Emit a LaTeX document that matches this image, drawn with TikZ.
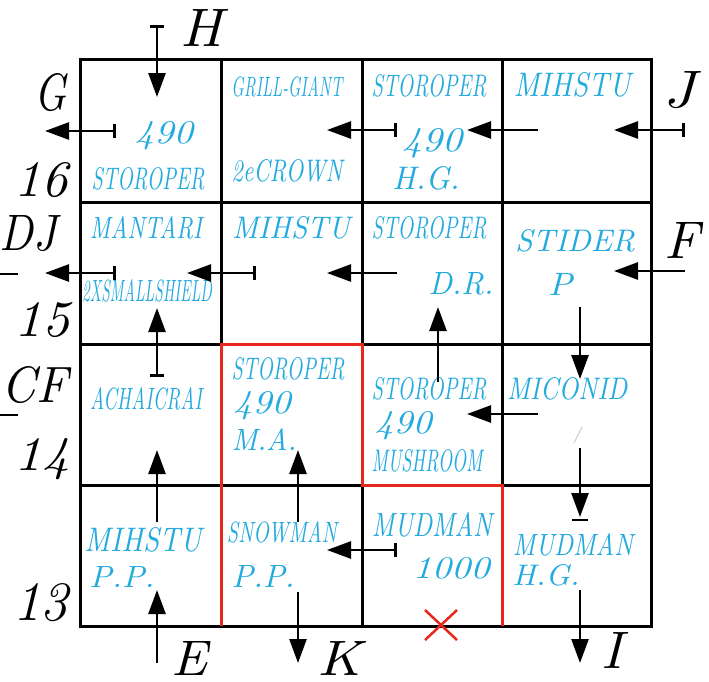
\documentclass[tikz,border=0pt]{standalone}
\usepackage{graphicx}
\usetikzlibrary{arrows.meta}
\definecolor{bluetext}{RGB}{35,170,222}
\definecolor{redline}{RGB}{232,40,28}
\newcommand{\fitt}[3]{\resizebox{#1pt}{#2pt}{\itshape #3}}
\begin{document}
\begin{tikzpicture}[x=1pt,y=-1pt,
  lab/.style={inner sep=0pt, text=black},
  bt/.style={inner sep=0pt, text=bluetext},
  gridline/.style={line width=3pt, black},
  redwall/.style={line width=3pt, redline, line join=miter},
  arr/.style={line width=2.6pt, -{Triangle[length=24pt,width=17pt]}},
  barr/.style={line width=2.6pt, {Bar[width=14pt]}-{Triangle[length=24pt,width=17pt]}},
  plain/.style={line width=2.6pt}
  ]
\useasboundingbox (0,0) rectangle (709,681);
\fill[white] (0,0) rectangle (709,681);
% grid
\draw[gridline] (80,59) rectangle (651,626);
\foreach \x in {221,362,502} \draw[gridline] (\x,59)--(\x,626);
\foreach \y in {202,344,485} \draw[gridline] (80,\y)--(651,\y);
% red walls
\draw[redwall] (221,626)--(221,344)--(362,344)--(362,485)--(502,485)--(502,626);
\draw[redline, line width=2.5pt] (425,610)--(457,640) (425,640)--(457,610);
% faint mark
\draw[gray!40, line width=1pt] (574,443)--(582,427);

% black labels
\node[lab] (H) at (201,28) {\fitt{42}{37}{H}};
\node[lab] (G) at (51,93) {\fitt{32}{37}{G}};
\node[lab] (n16) at (41,180) {\fitt{53}{34}{16}};
\node[lab] (DJ) at (28,234) {\fitt{57}{35}{DJ}};
\node[lab] (n15) at (42,320) {\fitt{55}{34}{15}};
\node[lab] (CF) at (35,385) {\fitt{66}{36}{CF}};
\node[lab] (n14) at (42,459) {\fitt{55}{32}{14}};
\node[lab] (n13) at (41,603) {\fitt{55}{37}{13}};
\node[lab] (E) at (190,658) {\fitt{36}{34}{E}};
\node[lab] (K) at (340,658) {\fitt{44}{34}{K}};
\node[lab] (I) at (612,650) {\fitt{21}{36}{I}};
\node[lab] (J) at (679,90) {\fitt{32}{36}{J}};
\node[lab] (F) at (682,240) {\fitt{35}{36}{F}};

% blue labels row 1
\node[bt] (t11a) at (164,136) {\fitt{58}{22}{490}};
\node[bt] (t11b) at (148,179) {\fitt{113}{22}{STOROPER}};
\node[bt] (t12a) at (287,87) {\fitt{111}{20}{GRILL-GIANT}};
\node[bt] (t12b) at (287,171) {\fitt{111}{22}{2eCROWN}};
\node[bt] (t13a) at (429,86) {\fitt{115}{22}{STOROPER}};
\node[bt] (t13b) at (432,143) {\fitt{60}{23}{490}};
\node[bt] (t13c) at (426,178) {\fitt{67}{23}{H.G.}};
\node[bt] (t14a) at (572,85) {\fitt{117}{24}{MIHSTU}};
% row 2
\node[bt] (t21a) at (146,228) {\fitt{112}{22}{MANTARI}};
\node[bt] (t21b) at (147,291) {\fitt{130}{22}{2XSMALLSHIELD}};
\node[bt] (t22a) at (291,228) {\fitt{118}{22}{MIHSTU}};
\node[bt] (t23a) at (429,228) {\fitt{115}{22}{STOROPER}};
\node[bt] (t23b) at (461,284) {\fitt{65}{22}{D.R.}};
\node[bt] (t24a) at (575,241) {\fitt{120}{22}{STIDER}};
\node[bt] (t24b) at (560,284) {\fitt{24}{22}{P}};
% row 3
\node[bt] (t31a) at (146,399) {\fitt{112}{22}{ACHAICRAI}};
\node[bt] (t32a) at (288,369) {\fitt{113}{22}{STOROPER}};
\node[bt] (t32b) at (262,406) {\fitt{57}{22}{490}};
\node[bt] (t32c) at (264,439) {\fitt{65}{22}{M.A.}};
\node[bt] (t33a) at (429,389) {\fitt{115}{22}{STOROPER}};
\node[bt] (t33b) at (403,426) {\fitt{57}{22}{490}};
\node[bt] (t33c) at (427,461) {\fitt{111}{22}{MUSHROOM}};
\node[bt] (t34a) at (567,389) {\fitt{120}{22}{MICONID}};
% row 4
\node[bt] (t41a) at (143,540) {\fitt{117}{24}{MIHSTU}};
\node[bt] (t41b) at (122,577) {\fitt{65}{21}{P.P.}};
\node[bt] (t42a) at (282,532) {\fitt{110}{21}{SNOWMAN}};
\node[bt] (t42b) at (263,576) {\fitt{63}{22}{P.P.}};
\node[bt] (t43a) at (432,525) {\fitt{120}{24}{MUDMAN}};
\node[bt] (t43b) at (451,568) {\fitt{77}{21}{1000}};
\node[bt] (t44a) at (573,545) {\fitt{120}{22}{MUDMAN}};
\node[bt] (t44b) at (546,575) {\fitt{67}{21}{H.G.}};

% arrow end points
\coordinate (a1s) at (157,25);  \coordinate (a1e) at (157,97);
\coordinate (a2s) at (116,131); \coordinate (a2e) at (45,131);
\coordinate (a3s) at (397,130); \coordinate (a3e) at (327,130);
\coordinate (a4s) at (538,130); \coordinate (a4e) at (467,130);
\coordinate (a5s) at (685,130); \coordinate (a5e) at (614,130);
\coordinate (a6s) at (116,273); \coordinate (a6e) at (45,273);
\coordinate (a7s) at (256,273); \coordinate (a7e) at (187,273);
\coordinate (a8s) at (397,273); \coordinate (a8e) at (327,273);
\coordinate (a9s) at (685,271); \coordinate (a9e) at (614,271);
\coordinate (a10s) at (157,377); \coordinate (a10e) at (157,308);
\coordinate (a11s) at (157,522); \coordinate (a11e) at (157,450);
\coordinate (a12s) at (157,663); \coordinate (a12e) at (157,590);
\coordinate (a13s) at (298,522); \coordinate (a13e) at (298,450);
\coordinate (a14s) at (298,592); \coordinate (a14e) at (298,663);
\coordinate (a15s) at (438,382); \coordinate (a15e) at (438,307);
\coordinate (a16s) at (538,414); \coordinate (a16e) at (467,414);
\coordinate (a17s) at (397,550); \coordinate (a17e) at (327,550);
\coordinate (a18s) at (580,307); \coordinate (a18e) at (580,379);
\coordinate (a19s) at (580,448); \coordinate (a19e) at (580,517);
\coordinate (a19l) at (572,520); \coordinate (a19r) at (588,520);
\coordinate (a20s) at (580,590); \coordinate (a20e) at (580,663);
\coordinate (d1s) at (0,274); \coordinate (d1e) at (18,274);
\coordinate (d2s) at (0,415); \coordinate (d2e) at (18,415);

\draw[barr] (a1s) -- (a1e);
\draw[barr] (a2s) -- (a2e);
\draw[barr] (a3s) -- (a3e);
\draw[arr]  (a4s) -- (a4e);
\draw[barr] (a5s) -- (a5e);
\draw[barr] (a6s) -- (a6e);
\draw[barr] (a7s) -- (a7e);
\draw[arr]  (a8s) -- (a8e);
\draw[arr]  (a9s) -- (a9e);
\draw[barr] (a10s) -- (a10e);
\draw[arr]  (a11s) -- (a11e);
\draw[arr]  (a12s) -- (a12e);
\draw[arr]  (a13s) -- (a13e);
\draw[arr]  (a14s) -- (a14e);
\draw[arr]  (a15s) -- (a15e);
\draw[arr]  (a16s) -- (a16e);
\draw[barr] (a17s) -- (a17e);
\draw[arr]  (a18s) -- (a18e);
\draw[arr]  (a19s) -- (a19e);
\draw[plain] (a19l) -- (a19r);
\draw[arr]  (a20s) -- (a20e);
\draw[plain] (d1s) -- (d1e);
\draw[plain] (d2s) -- (d2e);
\end{tikzpicture}
\end{document}
